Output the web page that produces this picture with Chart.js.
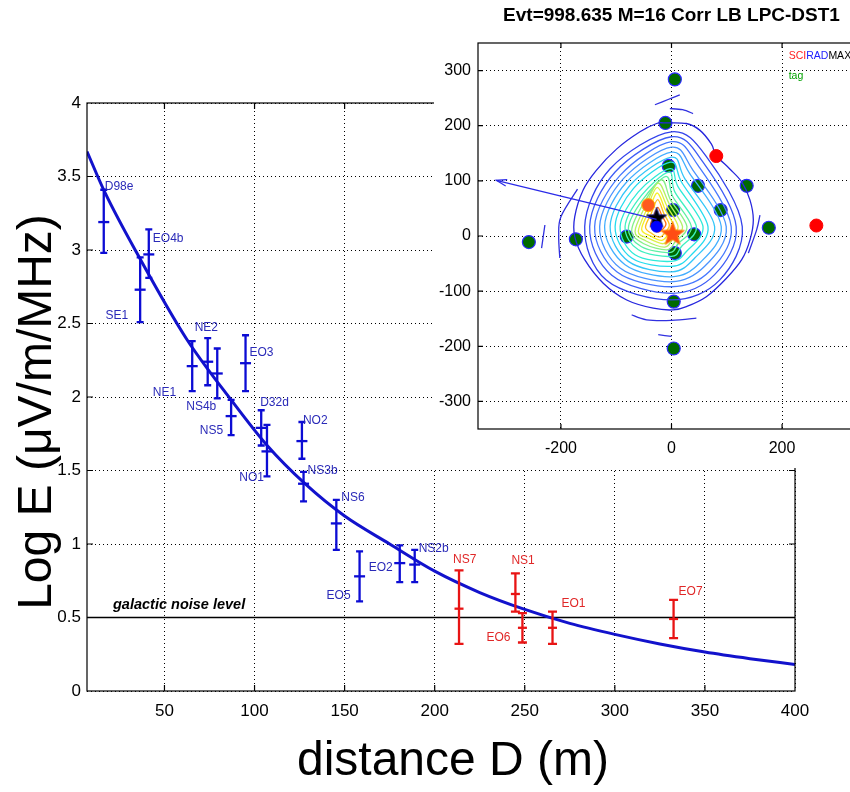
<!DOCTYPE html>
<html><head><meta charset="utf-8">
<script src="https://cdn.jsdelivr.net/npm/chart.js@4.4.0/dist/chart.umd.min.js"></script>
<style>
html,body{margin:0;padding:0;overflow:hidden;background:#fff;width:850px;height:792px;}
#main{position:absolute;left:0;top:0;}
#insetWrap{position:absolute;left:434px;top:0;width:416px;height:468px;overflow:hidden;background:#fff;}
#inset{position:absolute;left:0;top:0;}
</style></head><body>
<canvas id="main" width="850" height="792"></canvas>
<div id="insetWrap"><canvas id="inset" width="440" height="468"></canvas></div>
<script>
// ---------------- main chart data ----------------
const xTickValues = [50, 100, 150, 200, 250, 300, 350, 400];
const yTickValues = [0, 0.5, 1, 1.5, 2, 2.5, 3, 3.5, 4];
const fitDistance = [7, 17, 36, 62, 87, 107, 128, 150, 175, 200, 225, 250, 275, 300, 325, 350, 375, 400];
const fitLogE     = [3.67, 3.39, 2.95, 2.40, 1.98, 1.67, 1.41, 1.19, 1.00, 0.815, 0.67, 0.555, 0.46, 0.385, 0.32, 0.265, 0.22, 0.18];
const noiseLevel = 0.5;

const blueNames = ['D98e','SE1','EO4b','NE1','NE2','NS4b','EO3','NS5','D32d','NO1','NO2','NS3b','NS6','EO5','EO2','NS2b'];
const blueD     = [16.3, 36.5, 41.3, 65.4, 74, 79.3, 95, 87, 103.7, 106.9, 126.3, 127.2, 145.4, 158.3, 180.6, 188.9];
const blueE     = [3.19, 2.73, 2.97, 2.21, 2.24, 2.16, 2.23, 1.87, 1.79, 1.63, 1.70, 1.41, 1.14, 0.78, 0.87, 0.86];
const blueLo    = [2.98, 2.51, 2.81, 2.04, 2.08, 1.99, 2.04, 1.74, 1.67, 1.46, 1.58, 1.29, 0.96, 0.61, 0.74, 0.74];
const blueHi    = [3.41, 2.95, 3.14, 2.38, 2.40, 2.33, 2.42, 1.98, 1.91, 1.81, 1.83, 1.49, 1.30, 0.95, 0.99, 0.96];

const redNames = ['NS7','NS1','EO6','EO1','EO7'];
const redD     = [213.5, 244.8, 248.7, 265.4, 332.6];
const redE     = [0.56, 0.66, 0.43, 0.43, 0.49];
const redLo    = [0.32, 0.54, 0.33, 0.32, 0.36];
const redHi    = [0.82, 0.80, 0.53, 0.54, 0.62];

// label placement (pixel offset from the point, text alignment)
const blueLabelPlace = [[1,-35,'left'],[-12,26,'right'],[4,-16,'left'],[-16,27,'right'],[-13,-34,'left'],[-1,33,'right'],[4,-11,'left'],[-8,15,'right'],[-1,-25,'left'],[-3,26,'right'],[1,-20,'left'],[4,-13,'left'],[5,-26,'left'],[-9,19,'right'],[-7,5,'right'],[4,-16,'left']];
const redLabelPlace = [[-6,-49,'left'],[-4,-33,'left'],[-12,10,'right'],[9,-24,'left'],[5,-27,'left']];

// ---------------- inset data ----------------
const insetTitle = 'Evt=998.635 M=16 Corr LB LPC-DST1';
const insetXTicks = [-200, 0, 200];
const insetYTicks = [-300, -200, -100, 0, 100, 200, 300];
const tagX = [6, -11, -5, 48, 136, 89, 3, 176, 41, -81, -173, -258, 6, 4, 4];
const tagY = [284, 205, 127, 91, 91, 47, 47, 15, 3, -1, -6, -11, -31, -119, -204];
const sciX = [81, 262];
const sciY = [145, 19];
const hatchX = [-42], hatchY = [56];
const orangeStarX = [2], orangeStarY = [3];
const blackStarX = [-27], blackStarY = [32];
const coreX = [-27], coreY = [17];
const arrowX = [-27, -317], arrowY = [30, 101];

// contour rings [x,y], outermost first
const contourRings = [
 [[-12,205],[27,204],[51,192],[72,167],[81,146],[105,122],[127,98],[142,65],[148,29],[142,-7],[127,-43],[99,-77],[63,-110],[27,-128],[3,-134],[-33,-131],[-81,-116],[-123,-86],[-157,-43],[-175,-1],[-175,35],[-160,83],[-136,119],[-99,158],[-57,189],[-27,204]],
 [[0,189],[66,140],[128,17],[87,-80],[0,-116],[-118,-80],[-157,17],[-111,122]],
 [[0,180],[57,134],[117,17],[78,-70],[0,-104],[-108,-71],[-148,17],[-102,116]],
 [[0,171],[48,128],[108,17],[69,-64],[0,-92],[-99,-65],[-139,17],[-93,110]],
 [[0,161],[39,119],[99,17],[60,-55],[0,-83],[-93,-58],[-130,17],[-87,104]],
 [[0,152],[33,113],[90,17],[51,-49],[0,-74],[-84,-52],[-121,17],[-81,98]],
 [[0,143],[24,104],[78,17],[42,-40],[0,-65],[-78,-46],[-111,17],[-75,92]],
 [[-2,134],[18,98],[66,17],[36,-34],[0,-55],[-72,-40],[-102,17],[-69,86]],
 [[-3,122],[12,89],[57,17],[27,-28],[0,-46],[-66,-34],[-93,17],[-60,80]],
 [[-5,116],[6,80],[45,17],[18,-19],[0,-37],[-60,-25],[-84,17],[-54,74]],
 [[-10,108],[2,72],[36,17],[12,-14],[-4,-30],[-55,-19],[-78,14],[-52,66]],
 [[-18,102],[-2,66],[28,17],[7,-10],[-8,-25],[-50,-14],[-72,10],[-50,60]],
 [[-24,96],[-5,60],[20,17],[2,-6],[-12,-20],[-46,-9],[-66,8],[-47,55]],
 [[-26,88],[-8,54],[12,17],[-3,-2],[-15,-14],[-42,-4],[-60,8],[-44,50]],
 [[-26,78],[-11,47],[4,18],[-7,2],[-18,-8],[-38,0],[-54,12],[-41,45]],
 [[-25,66],[-14,41],[-4,20],[-12,6],[-21,-2],[-35,4],[-47,16],[-37,40]],
 [[-25,52],[-17,36],[-10,22],[-16,12],[-24,7],[-32,11],[-38,20],[-33,34]]
];
const contourColors = ['#2626de','#3242ec','#3d5cf6','#4678ff','#4a94ff','#42aeff','#34c6f8','#26dcee','#2eead8','#40f0c0','#5cf0a4','#86f088','#b4f066','#dcf046','#f6ee24','#ffbe1c','#ff6e10'];
const contourArcs = [
 [[-30,238],[-5,248],[15,256]],
 [[-3,231],[20,229],[39,222]],
 [[-202,-40],[-204,0],[-200,35],[-170,85]],
 [[-235,-22],[-229,20]],
 [[160,38],[154,11],[139,-31]],
 [[-72,-143],[-45,-152],[0,-153],[45,-149]],
 [[-24,-179],[0,-182]]
];

// ---------------- helpers ----------------
const FONT = "'Liberation Sans', Arial, sans-serif";
const pts = (xs, ys) => xs.map((v, i) => ({x: v, y: ys[i]}));

function starImage(size, fill, stroke) {
  const c = document.createElement('canvas');
  c.width = c.height = size;
  const g = c.getContext('2d');
  g.beginPath();
  for (let i = 0; i < 10; i++) {
    const r = i % 2 ? size * 0.2 : size * 0.48;
    const a = -Math.PI / 2 + i * Math.PI / 5;
    g.lineTo(size / 2 + r * Math.cos(a), size / 2 + r * Math.sin(a));
  }
  g.closePath();
  g.fillStyle = fill; g.fill();
  if (stroke) { g.strokeStyle = stroke; g.lineWidth = 1; g.stroke(); }
  return c;
}

function drawErrorBars(ctx, xs, ys, d, lo, hi, color, capHalf) {
  ctx.save();
  ctx.strokeStyle = color; ctx.lineWidth = 2.3; ctx.lineCap = 'butt';
  for (let i = 0; i < d.length; i++) {
    const px = xs.getPixelForValue(d[i]);
    const pl = ys.getPixelForValue(lo[i]);
    const ph = ys.getPixelForValue(hi[i]);
    ctx.beginPath();
    ctx.moveTo(px, pl); ctx.lineTo(px, ph);
    ctx.moveTo(px - capHalf, pl); ctx.lineTo(px + capHalf, pl);
    ctx.moveTo(px - capHalf, ph); ctx.lineTo(px + capHalf, ph);
    ctx.stroke();
  }
  ctx.restore();
}

function drawLabels(ctx, xs, ys, names, d, e, place, color) {
  ctx.save();
  ctx.fillStyle = color; ctx.font = '12px ' + FONT; ctx.textBaseline = 'middle';
  for (let i = 0; i < names.length; i++) {
    const px = xs.getPixelForValue(d[i]);
    const py = ys.getPixelForValue(e[i]);
    ctx.textAlign = place[i][2];
    ctx.fillText(names[i], px + place[i][0], py + place[i][1]);
  }
  ctx.restore();
}

function drawFrameAndTicks(ctx, chart, xt, yt, len) {
  const {left, right, top, bottom} = chart.chartArea;
  const xs = chart.scales.x, ys = chart.scales.y;
  ctx.save();
  ctx.strokeStyle = '#000'; ctx.lineWidth = 1.2;
  ctx.strokeRect(left, top, right - left, bottom - top);
  ctx.beginPath();
  xt.forEach(v => { const p = xs.getPixelForValue(v); ctx.moveTo(p, bottom); ctx.lineTo(p, bottom - len); ctx.moveTo(p, top); ctx.lineTo(p, top + len); });
  yt.forEach(v => { const p = ys.getPixelForValue(v); ctx.moveTo(left, p); ctx.lineTo(left + len, p); ctx.moveTo(right, p); ctx.lineTo(right - len, p); });
  ctx.stroke();
  ctx.restore();
}

// ---------------- main chart ----------------
const mainDecor = {
  id: 'mainDecor',
  afterDatasetsDraw(chart) {
    const {ctx} = chart; const xs = chart.scales.x, ys = chart.scales.y;
    drawErrorBars(ctx, xs, ys, blueD, blueLo, blueHi, '#0c0cd4', 3.5);
    drawErrorBars(ctx, xs, ys, redD, redLo, redHi, '#e81414', 4.5);
    drawLabels(ctx, xs, ys, blueNames, blueD, blueE, blueLabelPlace, '#2a2ab8');
    drawLabels(ctx, xs, ys, redNames, redD, redE, redLabelPlace, '#e02828');
  },
  afterDraw(chart) {
    const {ctx, chartArea} = chart;
    drawFrameAndTicks(ctx, chart, [50,100,150,200,250,300,350], [0.5,1,1.5,2,2.5,3,3.5], 6);
    ctx.save();
    ctx.fillStyle = '#000';
    ctx.font = 'italic bold 14.5px ' + FONT; ctx.textAlign = 'left'; ctx.textBaseline = 'middle';
    ctx.fillText('galactic noise level', chartArea.left + 26, chart.scales.y.getPixelForValue(noiseLevel) - 13);
    ctx.font = '48px ' + FONT; ctx.textAlign = 'center';
    ctx.fillText('distance D (m)', (chartArea.left + chartArea.right) / 2 + 12, 762);
    ctx.translate(38, 412); ctx.rotate(-Math.PI / 2);
    ctx.font = '48px ' + FONT;
    ctx.fillText('Log E (\u03BCV/m/MHz)', 0, 0);
    ctx.restore();
  }
};

new Chart(document.getElementById('main'), {
  type: 'scatter',
  data: {
    datasets: [
      {type: 'line', data: pts(fitDistance, fitLogE), borderColor: '#1212cc', borderWidth: 3, pointRadius: 0, cubicInterpolationMode: 'monotone', fill: false, order: 3},
      {type: 'line', data: [{x: 7, y: noiseLevel}, {x: 400, y: noiseLevel}], borderColor: '#000', borderWidth: 1.3, pointRadius: 0, order: 4},
      {data: pts(blueD, blueE), pointStyle: 'line', pointRadius: 5.5, borderColor: '#0c0cd4', borderWidth: 2.3, order: 1},
      {data: pts(redD, redE), pointStyle: 'line', pointRadius: 4.5, borderColor: '#e81414', borderWidth: 2.3, order: 2}
    ]
  },
  options: {
    responsive: false, animation: false, events: [],
    layout: {padding: {top: 103, right: 55, left: 0, bottom: 0}},
    plugins: {legend: {display: false}, tooltip: {enabled: false}},
    scales: {
      x: {
        type: 'linear', min: 7, max: 400,
        afterBuildTicks: s => { s.ticks = xTickValues.map(v => ({value: v})); },
        afterFit: s => { s.height = 101; },
        grid: {color: '#000', lineWidth: 1, drawTicks: false},
        border: {display: false, dash: [1, 3]},
        ticks: {color: '#000', font: {family: FONT, size: 17}, padding: 10, maxRotation: 0, autoSkip: false, callback: v => String(v)}
      },
      y: {
        type: 'linear', min: 0, max: 4,
        afterBuildTicks: s => { s.ticks = yTickValues.map(v => ({value: v})); },
        afterFit: s => { s.width = 87; },
        grid: {color: '#000', lineWidth: 1, drawTicks: false},
        border: {display: false, dash: [1, 3]},
        ticks: {color: '#000', font: {family: FONT, size: 17}, padding: 6, autoSkip: false, callback: v => String(v)}
      }
    }
  },
  plugins: [mainDecor]
});

// ---------------- inset chart ----------------
function curveThrough(ctx, p, closed) {
  const n = p.length;
  const get = i => closed ? p[(i + n) % n] : p[Math.max(0, Math.min(n - 1, i))];
  ctx.moveTo(p[0][0], p[0][1]);
  const segs = closed ? n : n - 1;
  for (let i = 0; i < segs; i++) {
    const p0 = get(i - 1), p1 = get(i), p2 = get(i + 1), p3 = get(i + 2);
    ctx.bezierCurveTo(p1[0] + (p2[0] - p0[0]) / 6, p1[1] + (p2[1] - p0[1]) / 6,
                      p2[0] - (p3[0] - p1[0]) / 6, p2[1] - (p3[1] - p1[1]) / 6, p2[0], p2[1]);
  }
}

const insetDecor = {
  id: 'insetDecor',
  afterDatasetDraw(chart, args) {
    if (chart.data.datasets[args.index].id !== 'tag') return;
    const {ctx, chartArea} = chart; const xs = chart.scales.x, ys = chart.scales.y;
    const toPx = q => [xs.getPixelForValue(q[0]), ys.getPixelForValue(q[1])];
    ctx.save();
    ctx.beginPath(); ctx.rect(chartArea.left, chartArea.top, chartArea.right - chartArea.left, chartArea.bottom - chartArea.top); ctx.clip();
    ctx.lineWidth = 1.3;
    contourRings.forEach((ring, k) => {
      ctx.strokeStyle = contourColors[k];
      ctx.beginPath(); curveThrough(ctx, ring.map(toPx), true); ctx.stroke();
    });
    ctx.strokeStyle = '#3030e0';
    contourArcs.forEach(arc => { ctx.beginPath(); curveThrough(ctx, arc.map(toPx), false); ctx.stroke(); });
    ctx.restore();
  },
  afterDatasetsDraw(chart) {
    const {ctx} = chart; const xs = chart.scales.x, ys = chart.scales.y;
    const x1 = xs.getPixelForValue(arrowX[0]), y1 = ys.getPixelForValue(arrowY[0]);
    const x2 = xs.getPixelForValue(arrowX[1]), y2 = ys.getPixelForValue(arrowY[1]);
    const a = Math.atan2(y2 - y1, x2 - x1);
    ctx.save(); ctx.strokeStyle = '#2a2ae8'; ctx.lineWidth = 1.2;
    ctx.beginPath();
    ctx.moveTo(x2 - 11 * Math.cos(a - 0.3), y2 - 11 * Math.sin(a - 0.3)); ctx.lineTo(x2, y2);
    ctx.lineTo(x2 - 11 * Math.cos(a + 0.3), y2 - 11 * Math.sin(a + 0.3));
    ctx.stroke(); ctx.restore();
  },
  afterDraw(chart) {
    const {ctx, chartArea} = chart; const xs = chart.scales.x, ys = chart.scales.y;
    drawFrameAndTicks(ctx, chart, insetXTicks, insetYTicks, 5);
    ctx.save();
    ctx.fillStyle = '#000'; ctx.font = 'bold 19px ' + FONT; ctx.textAlign = 'center'; ctx.textBaseline = 'middle';
    ctx.fillText(insetTitle, (chartArea.left + chartArea.right) / 2, 16);
    ctx.font = '10.5px ' + FONT; ctx.textAlign = 'left';
    let px = xs.getPixelForValue(212); const py = ys.getPixelForValue(326);
    [['SCI', '#ff2020'], ['RAD', '#2020ff'], ['MAX', '#000']].forEach(([t, c]) => { ctx.fillStyle = c; ctx.fillText(t, px, py); px += ctx.measureText(t).width; });
    ctx.fillStyle = '#00a000';
    ctx.fillText('tag', xs.getPixelForValue(212), ys.getPixelForValue(290));
    ctx.restore();
  }
};

new Chart(document.getElementById('inset'), {
  type: 'scatter',
  data: {
    datasets: [
      {type: 'line', data: pts(arrowX, arrowY), borderColor: '#2a2ae8', borderWidth: 1.2, pointRadius: 0, order: 1},
      {data: pts(coreX, coreY), pointRadius: 5.5, backgroundColor: '#0000ff', borderColor: '#0000ff', order: 2},
      {data: pts(blackStarX, blackStarY), pointStyle: starImage(22, '#000', '#1a1a80'), order: 3},
      {data: pts(orangeStarX, orangeStarY), pointStyle: starImage(26, '#ff4c14', '#ff8800'), order: 4},
      {data: pts(hatchX, hatchY), pointRadius: 6.5, backgroundColor: '#ff5a20', borderColor: '#ffb000', borderWidth: 1, order: 5},
      {data: pts(sciX, sciY), pointRadius: 6.5, backgroundColor: '#ff0000', borderColor: '#ff0000', borderWidth: 1, order: 6},
      {id: 'tag', data: pts(tagX, tagY), pointRadius: 6.5, backgroundColor: '#006a00', borderColor: '#2a2aff', borderWidth: 1.2, order: 10}
    ]
  },
  options: {
    responsive: false, animation: false, events: [],
    layout: {padding: {top: 43, right: 9, left: 0, bottom: 0}},
    plugins: {legend: {display: false}, tooltip: {enabled: false}},
    scales: {
      x: {
        type: 'linear', min: -350, max: 350,
        afterBuildTicks: s => { s.ticks = insetXTicks.map(v => ({value: v})); },
        afterFit: s => { s.height = 39; },
        grid: {color: '#000', lineWidth: 1, drawTicks: false},
        border: {display: false, dash: [1, 3]},
        ticks: {color: '#000', font: {family: FONT, size: 16}, padding: 10, maxRotation: 0, autoSkip: false, callback: v => String(v)}
      },
      y: {
        type: 'linear', min: -350, max: 350,
        afterBuildTicks: s => { s.ticks = insetYTicks.map(v => ({value: v})); },
        afterFit: s => { s.width = 44; },
        grid: {color: '#000', lineWidth: 1, drawTicks: false},
        border: {display: false, dash: [1, 3]},
        ticks: {color: '#000', font: {family: FONT, size: 16}, padding: 7, autoSkip: false, callback: v => String(v)}
      }
    }
  },
  plugins: [insetDecor]
});
</script>
</body></html>
